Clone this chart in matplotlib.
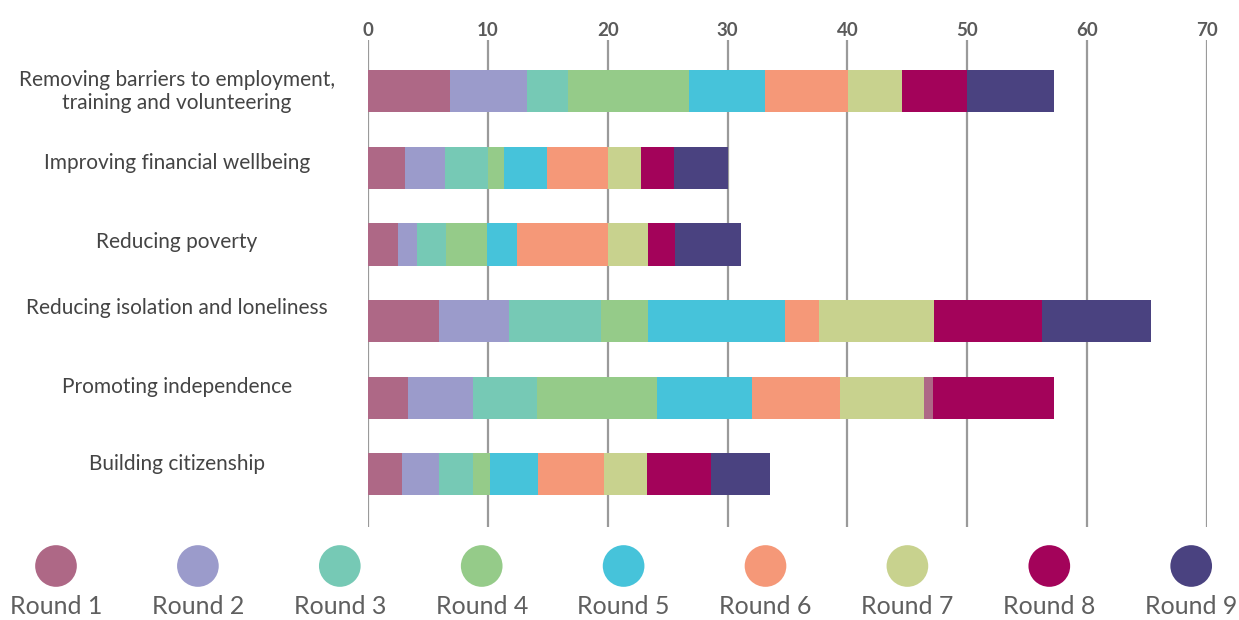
import matplotlib
matplotlib.use("Agg")
from matplotlib import pyplot as plt
from matplotlib import transforms
import numpy as np

categories = [
    "Removing barriers to employment,\ntraining and volunteering",
    "Improving financial wellbeing",
    "Reducing poverty",
    "Reducing isolation and loneliness",
    "Promoting independence",
    "Building citizenship",
]
rounds = ["Round 1", "Round 2", "Round 3", "Round 4", "Round 5",
          "Round 6", "Round 7", "Round 8", "Round 9"]

# one row per category, one column per round
values = np.array([
    [6.8, 6.45, 3.4, 10.1, 6.4, 6.9, 4.5, 5.4, 7.3],
    [3.05, 3.35, 3.65, 1.3, 3.55, 5.1, 2.8, 2.75, 4.5],
    [2.5, 1.6, 2.4, 3.45, 2.45, 7.6, 3.35, 2.3, 5.5],
    [5.9, 5.85, 7.7, 3.95, 11.4, 2.85, 9.6, 9.0, 9.1],
    [3.3, 5.5, 5.3, 10.0, 7.9, 7.35, 7.0, 0.8, 10.05],
    [2.8, 3.1, 2.9, 1.4, 3.95, 5.5, 3.65, 5.3, 4.9],
])
colors = ["#AE6886", "#9B9BCB", "#76C9B5", "#95CB89", "#46C3DA",
          "#F59878", "#C8D28E", "#A3035A", "#4A4280"]
xticks = [0, 10, 20, 30, 40, 50, 60, 70]

# the source chart colours the last two pieces of "Promoting independence" oddly
color_override = {(4, 7): "#AE6886", (4, 8): "#A3035A"}
label_shift = [0.0, -0.06, -0.03, -0.17, -0.14, -0.13]

plt.rcParams['font.family'] = ['Lato', 'DejaVu Sans']

fig = plt.figure(figsize=(12.39, 6.2), dpi=100)
ax = fig.add_axes([368/1239, 1 - 527/620, (1207 - 368)/1239, 487/620])

y = np.arange(len(categories))
left = np.zeros(len(categories))
for j in range(len(rounds)):
    cols = [color_override.get((i, j), colors[j]) for i in range(len(categories))]
    ax.barh(y, values[:, j], left=left, height=0.55, color=cols,
            edgecolor='none', zorder=2)
    left += values[:, j]

ax.set_xlim(0, 70)
ax.set_ylim(5.69, -0.67)
ax.set_xticks(xticks)
ax.xaxis.tick_top()
ax.tick_params(axis='x', length=0, pad=1, labelsize=13.5, labelcolor='#5a5a5a')
for t in ax.get_xticklabels():
    t.set_fontweight('bold')
ax.set_yticks([])
ax.grid(axis='x', color='#9a9a9a', linewidth=1.6, zorder=0)
ax.set_axisbelow(True)
for s in ax.spines.values():
    s.set_visible(False)

trans = transforms.blended_transform_factory(fig.transFigure, ax.transData)
for i, c in enumerate(categories):
    ax.text(177/1239, i + label_shift[i], c, transform=trans, ha='center',
            va='center', fontsize=15, color='#444444', linespacing=1.15)

# legend strip
lax = fig.add_axes([0, 0, 1, 100/620])
lax.set_xlim(0, 1239)
lax.set_ylim(100, 0)
lax.axis('off')
for j, r in enumerate(rounds):
    cx = 56 + j * 141.9
    lax.scatter([cx], [46], s=900, color=colors[j], edgecolor='none')
    lax.text(cx, 87, r, ha='center', va='center', fontsize=18, color='#5f5f5f')

fig.savefig("out.png", dpi=100)
